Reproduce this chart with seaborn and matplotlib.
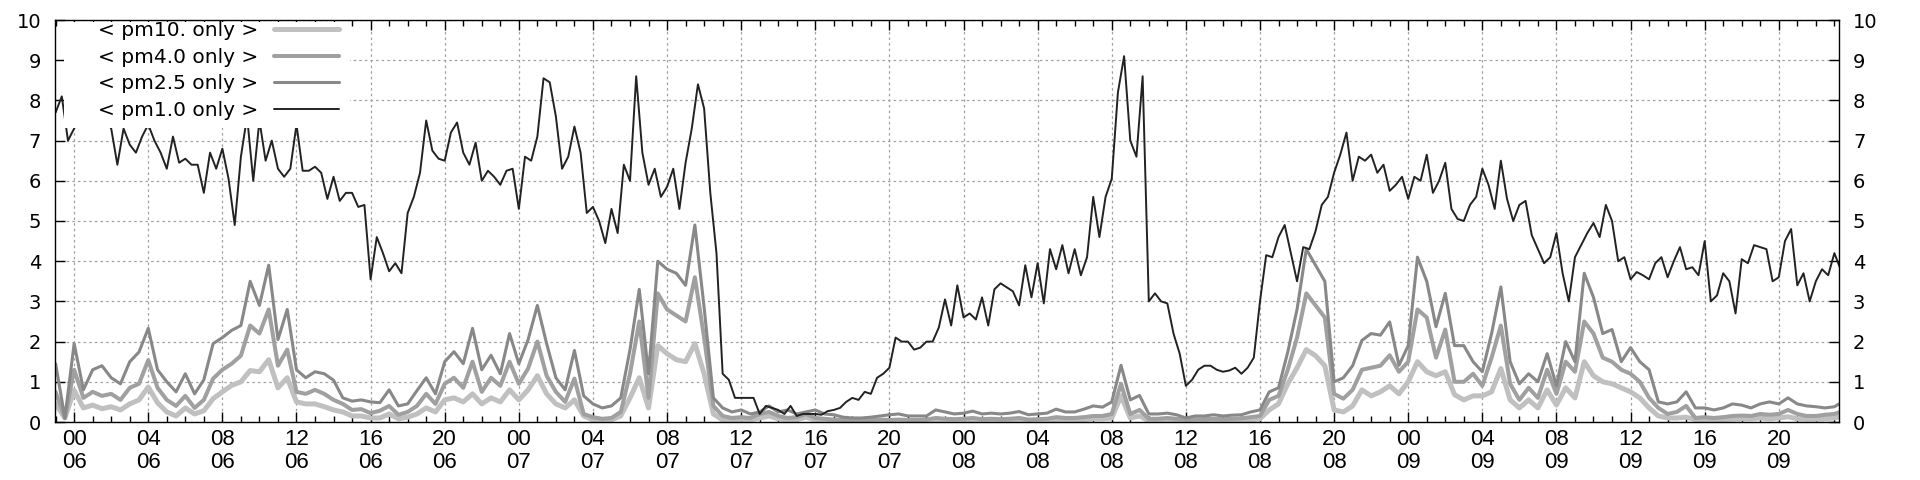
import pandas as pd
import matplotlib
matplotlib.use('Agg')
import matplotlib.pyplot as plt
import matplotlib.dates as mdates
from matplotlib.patches import Rectangle
import seaborn as sns

start = pd.Timestamp('2021-06-05 23:00')

# pm1.0, one reading every 20 min (each row = 4 hours)
pm1_0 = [
    7.7, 8.1, 7.0, 7.3, 7.6, 7.8, 7.9, 7.7, 7.5, 7.3, 6.4, 7.3,
    6.9, 6.7, 7.1, 7.4, 7.0, 6.7, 6.3, 7.1, 6.45, 6.55, 6.4, 6.4,
    5.7, 6.7, 6.3, 6.8, 6.05, 4.9, 6.6, 7.6, 6.0, 7.5, 6.5, 7.0,
    6.3, 6.1, 6.3, 7.4, 6.25, 6.25, 6.35, 6.2, 5.55, 6.1, 5.5, 5.7,
    5.7, 5.35, 5.4, 3.55, 4.6, 4.2, 3.75, 3.95, 3.7, 5.2, 5.6, 6.2,
    7.5, 6.75, 6.55, 6.5, 7.2, 7.45, 6.7, 6.4, 6.95, 6.0, 6.25, 6.1,
    5.9, 6.25, 6.3, 5.3, 6.6, 6.5, 7.1, 8.55, 8.45, 7.6, 6.3, 6.6,
    7.35, 6.7, 5.2, 5.35, 5.0, 4.45, 5.3, 4.7, 6.4, 6.0, 8.6, 6.7,
    5.9, 6.3, 5.6, 5.85, 6.3, 5.3, 6.45, 7.3, 8.4, 7.8, 5.7, 4.2,
    1.2, 1.05, 0.6, 0.6, 0.6, 0.6, 0.2, 0.4, 0.35, 0.3, 0.2, 0.4,
    0.15, 0.2, 0.2, 0.2, 0.18, 0.27, 0.3, 0.35, 0.5, 0.6, 0.55, 0.75,
    0.7, 1.1, 1.2, 1.35, 2.1, 2.0, 2.0, 1.8, 1.85, 2.0, 2.0, 2.35,
    3.05, 2.4, 3.4, 2.6, 2.7, 2.55, 3.1, 2.4, 3.3, 3.45, 3.35, 3.25,
    2.9, 3.9, 3.1, 3.95, 2.95, 4.3, 3.8, 4.4, 3.7, 4.3, 3.65, 4.1,
    5.6, 4.6, 5.6, 6.05, 8.2, 9.1, 7.0, 6.6, 8.6, 3.0, 3.2, 3.0,
    2.95, 2.2, 1.7, 0.9, 1.05, 1.3, 1.4, 1.4, 1.3, 1.25, 1.28, 1.35,
    1.2, 1.35, 1.6, 3.0, 4.15, 4.1, 4.6, 4.9, 4.2, 3.5, 4.35, 4.3,
    4.75, 5.4, 5.6, 6.2, 6.65, 7.2, 6.0, 6.6, 6.5, 6.65, 6.2, 6.4,
    5.75, 5.9, 6.1, 5.55, 6.1, 6.0, 6.65, 5.7, 6.0, 6.45, 5.3, 5.05,
    5.0, 5.4, 5.6, 6.3, 5.9, 5.3, 6.5, 5.55, 5.0, 5.4, 5.5, 4.65,
    4.3, 3.95, 4.1, 4.7, 3.7, 3.0, 4.1, 4.4, 4.7, 4.95, 4.6, 5.4,
    5.0, 4.0, 4.1, 3.55, 3.73, 3.65, 3.55, 3.95, 4.1, 3.6, 4.0, 4.35,
    3.8, 3.85, 3.65, 4.5, 3.0, 3.15, 3.7, 3.5, 2.7, 4.05, 3.95, 4.4,
    4.35, 4.3, 3.5, 3.6, 4.5, 4.8, 3.4, 3.7, 3.0, 3.5, 3.8, 3.65,
    4.2, 3.8,
]

# the other three, one reading every 30 min (each row = 4 hours)
pm2_5 = [
    1.45, 0.1, 1.95, 0.8, 1.3, 1.4, 1.1, 0.95,
    1.5, 1.74, 2.33, 1.3, 1.0, 0.75, 1.2, 0.7,
    1.05, 1.95, 2.1, 2.28, 2.4, 3.5, 2.9, 3.9,
    2.05, 2.8, 1.3, 1.1, 1.25, 1.2, 1.04, 0.6,
    0.52, 0.55, 0.5, 0.48, 0.8, 0.4, 0.45, 0.78,
    1.1, 0.7, 1.5, 1.75, 1.45, 2.33, 1.3, 1.66,
    1.2, 2.2, 1.45, 2.05, 2.9, 1.95, 1.1, 0.8,
    1.78, 0.65, 0.45, 0.35, 0.4, 0.6, 1.8, 3.3,
    1.2, 4.0, 3.8, 3.7, 3.4, 4.9, 2.85, 0.6,
    0.35, 0.25, 0.3, 0.2, 0.25, 0.4, 0.25, 0.3,
    0.2, 0.25, 0.3, 0.2, 0.18, 0.12, 0.1, 0.1,
    0.12, 0.15, 0.18, 0.2, 0.15, 0.15, 0.15, 0.3,
    0.25, 0.2, 0.22, 0.27, 0.2, 0.22, 0.2, 0.22,
    0.26, 0.18, 0.2, 0.22, 0.32, 0.25, 0.25, 0.32,
    0.4, 0.37, 0.5, 1.41, 0.55, 0.66, 0.2, 0.2,
    0.22, 0.18, 0.1, 0.15, 0.15, 0.18, 0.15, 0.17,
    0.18, 0.25, 0.3, 0.75, 0.85, 1.74, 2.8, 4.3,
    3.9, 3.5, 1.0, 1.1, 1.4, 2.03, 2.2, 2.16,
    2.49, 1.41, 1.9, 4.1, 3.5, 2.37, 3.2, 1.9,
    1.9, 1.5, 1.25, 2.2, 3.36, 1.5, 0.95, 1.2,
    1.0, 1.7, 0.9, 2.0, 1.5, 3.7, 3.1, 2.2,
    2.3, 1.5, 1.85, 1.5, 1.3, 0.5, 0.45, 0.5,
    0.75, 0.35, 0.35, 0.3, 0.35, 0.45, 0.42, 0.35,
    0.45, 0.5, 0.45, 0.6, 0.45, 0.4, 0.38, 0.35,
    0.38, 0.52,
]

pm4_0 = [
    0.75, 0.1, 1.3, 0.6, 0.75, 0.65, 0.7, 0.55,
    0.85, 0.95, 1.54, 0.85, 0.55, 0.4, 0.65, 0.35,
    0.55, 1.08, 1.3, 1.45, 1.65, 2.4, 2.2, 2.8,
    1.4, 1.8, 0.75, 0.7, 0.8, 0.7, 0.55, 0.45,
    0.3, 0.32, 0.22, 0.28, 0.4, 0.18, 0.25, 0.4,
    0.7, 0.45, 0.95, 1.1, 0.85, 1.5, 0.75, 1.1,
    0.9, 1.5, 0.95, 1.33, 2.0, 1.15, 0.75, 0.5,
    1.08, 0.2, 0.12, 0.08, 0.1, 0.25, 1.2, 2.5,
    0.6, 3.2, 2.8, 2.65, 2.5, 3.6, 2.1, 0.4,
    0.15, 0.1, 0.12, 0.1, 0.2, 0.25, 0.15, 0.1,
    0.12, 0.2, 0.1, 0.08, 0.06, 0.05, 0.04, 0.04,
    0.05, 0.06, 0.05, 0.06, 0.05, 0.05, 0.06, 0.1,
    0.08, 0.07, 0.08, 0.1, 0.07, 0.08, 0.07, 0.08,
    0.1, 0.06, 0.07, 0.08, 0.12, 0.1, 0.1, 0.12,
    0.15, 0.15, 0.2, 0.95, 0.2, 0.3, 0.08, 0.08,
    0.1, 0.08, 0.06, 0.07, 0.07, 0.08, 0.07, 0.08,
    0.09, 0.12, 0.15, 0.55, 0.65, 1.3, 2.1, 3.2,
    2.9, 2.6, 0.7, 0.58, 0.8, 1.3, 1.35, 1.4,
    1.66, 1.25, 1.5, 2.8, 2.6, 1.6, 2.3, 1.0,
    1.0, 1.2, 0.9, 1.6, 2.4, 0.95, 0.55, 0.85,
    0.6, 1.3, 0.7, 1.5, 1.25, 2.5, 2.2, 1.6,
    1.5, 1.3, 1.2, 1.0, 0.6, 0.35, 0.2, 0.25,
    0.4, 0.1, 0.12, 0.1, 0.12, 0.15, 0.16, 0.15,
    0.2, 0.18, 0.2, 0.3, 0.2, 0.15, 0.15, 0.18,
    0.2, 0.28,
]

pm10 = [
    0.45, 0.1, 0.79, 0.35, 0.42, 0.33, 0.38, 0.3,
    0.45, 0.55, 0.87, 0.48, 0.25, 0.15, 0.35, 0.2,
    0.28, 0.58, 0.75, 0.91, 1.0, 1.28, 1.25, 1.55,
    0.85, 1.1, 0.5, 0.45, 0.45, 0.38, 0.3, 0.25,
    0.15, 0.15, 0.1, 0.1, 0.2, 0.08, 0.12, 0.2,
    0.35, 0.25, 0.55, 0.6, 0.5, 0.7, 0.45, 0.6,
    0.5, 0.8, 0.55, 0.8, 1.15, 0.7, 0.45, 0.35,
    0.55, 0.15, 0.05, 0.05, 0.05, 0.15, 0.6, 1.1,
    0.35, 1.9, 1.7, 1.55, 1.5, 1.95, 1.2, 0.2,
    0.05, 0.05, 0.07, 0.05, 0.1, 0.15, 0.08, 0.05,
    0.06, 0.12, 0.05, 0.04, 0.03, 0.02, 0.02, 0.02,
    0.02, 0.03, 0.02, 0.03, 0.02, 0.02, 0.03, 0.05,
    0.04, 0.03, 0.04, 0.05, 0.03, 0.04, 0.03, 0.04,
    0.05, 0.03, 0.03, 0.04, 0.06, 0.05, 0.05, 0.06,
    0.08, 0.08, 0.1, 0.65, 0.1, 0.15, 0.03, 0.03,
    0.04, 0.03, 0.02, 0.03, 0.03, 0.03, 0.03, 0.03,
    0.04, 0.05, 0.08, 0.3, 0.45, 0.95, 1.35, 1.8,
    1.65, 1.4, 0.3, 0.25, 0.4, 0.8, 0.65, 0.75,
    0.9, 0.7, 1.0, 1.5, 1.25, 1.15, 1.25, 0.68,
    0.55, 0.65, 0.65, 0.75, 1.33, 0.55, 0.35, 0.55,
    0.35, 0.8, 0.42, 0.85, 0.6, 1.5, 1.15, 1.0,
    0.95, 0.85, 0.75, 0.6, 0.35, 0.15, 0.1, 0.1,
    0.12, 0.06, 0.06, 0.06, 0.06, 0.07, 0.08, 0.08,
    0.1, 0.08, 0.1, 0.13, 0.08, 0.07, 0.07, 0.08,
    0.1, 0.15,
]

labels = ['< pm10. only >', '< pm4.0 only >', '< pm2.5 only >', '< pm1.0 only >']
colors = ['#c0c0c0', '#a0a0a0', '#888888', '#222222']
widths = [3.6, 2.9, 2.2, 1.4]

t20 = pd.date_range(start, periods=len(pm1_0), freq='20min')
t30 = pd.date_range(start, periods=len(pm10), freq='30min')

sns.set_style('ticks')
plt.rcParams['font.family'] = ['DejaVu Sans']
plt.rcParams['text.color'] = 'black'
plt.rcParams['xtick.color'] = 'black'
plt.rcParams['ytick.color'] = 'black'

fig = plt.figure(figsize=(19.2, 4.8), dpi=100)
ax = fig.add_axes([55 / 1920, 58 / 480, 1784 / 1920, 402 / 480])

series = [(t30, pm10), (t30, pm4_0), (t30, pm2_5), (t20, pm1_0)]
for (t, v), lab, c, w in zip(series, labels, colors, widths):
    sns.lineplot(x=t, y=v, ax=ax, color=c, lw=w, label=lab, estimator=None)

ax.set_xlim(start - pd.Timedelta(minutes=2), start + pd.Timedelta(hours=96.25))
ax.set_ylim(0, 10)
ax.set_yticks(range(11))
ax.set_xlabel('')
ax.set_ylabel('')

ax.xaxis.set_major_locator(mdates.HourLocator(byhour=range(0, 24, 4)))
ax.xaxis.set_minor_locator(mdates.HourLocator())
ax.xaxis.set_major_formatter(mdates.DateFormatter('%H\n%d'))

ax.tick_params(which='both', direction='in', top=True, right=True,
               labelright=True, width=1, color='black')
ax.tick_params(which='major', length=7)
ax.tick_params(which='minor', length=4)
ax.tick_params(axis='y', labelsize=14, pad=10)
ax.tick_params(axis='x', labelsize=16, pad=5)
for lbl in ax.get_xticklabels():
    lbl.set_family(['Liberation Sans', 'DejaVu Sans'])
    lbl.set_linespacing(1.15)

for s in ax.spines.values():
    s.set_color('black')
    s.set_linewidth(1)
    s.set_zorder(6)

ax.grid(which='major', color='#a0a0a0', linestyle=(0, (2, 2.5)), linewidth=0.9)

# opaque key box
ax.add_patch(Rectangle((9 / 1784, 294 / 402), 286 / 1784, 106 / 402,
                       transform=ax.transAxes, facecolor='white',
                       edgecolor='none', zorder=3))
ax.legend(loc='upper left', bbox_to_anchor=(98 / 1920, 1 - 21 / 480),
          bbox_transform=fig.transFigure, frameon=False, markerfirst=False,
          fontsize=14.5, handlelength=3.2, handletextpad=0.8,
          labelspacing=0.38, borderpad=0, borderaxespad=0)

fig.savefig('out.png', dpi=100)
